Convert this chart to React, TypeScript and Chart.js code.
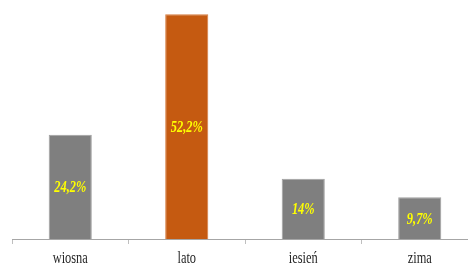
import React, { useEffect, useRef } from "react";
import { Chart, registerables } from "chart.js";

Chart.register(...registerables);

const categories = ["wiosna", "lato", "iesień", "zima"];
const values = [24.2, 52.2, 14, 9.7];
const valueLabels = ["24,2%", "52,2%", "14%", "9,7%"];
const barColors = ["#7f7f7f", "#c55a11", "#7f7f7f", "#7f7f7f"];
const barBorders = ["#a0a0a0", "#d47a3e", "#a0a0a0", "#a0a0a0"];

const SERIF = "'Liberation Serif', 'Times New Roman', serif";
const SQUEEZE = 0.73;

function drawSqueezed(ctx: CanvasRenderingContext2D, text: string, x: number, y: number) {
  ctx.save();
  ctx.translate(x, y);
  ctx.scale(SQUEEZE, 1);
  ctx.fillText(text, 0, 0);
  ctx.restore();
}

const labelPlugin = {
  id: "barLabels",
  afterDatasetsDraw(chart: any) {
    const ctx = chart.ctx as CanvasRenderingContext2D;
    const meta = chart.getDatasetMeta(0);
    ctx.save();
    ctx.fillStyle = "#ffff00";
    ctx.font = `italic bold 17px ${SERIF}`;
    ctx.textAlign = "center";
    ctx.textBaseline = "middle";
    meta.data.forEach((bar: any, i: number) => {
      const y = (bar.y + bar.base) / 2 + 1;
      drawSqueezed(ctx, valueLabels[i], bar.x, y);
    });
    ctx.fillStyle = "#262626";
    ctx.font = `17px ${SERIF}`;
    ctx.textBaseline = "alphabetic";
    const xs = chart.scales.x;
    categories.forEach((c, i) => {
      drawSqueezed(ctx, c, xs.getPixelForValue(i), xs.bottom + 19);
    });
    ctx.restore();
  },
};

export default function App() {
  const ref = useRef<HTMLCanvasElement>(null);
  useEffect(() => {
    if (!ref.current) return;
    const chart = new Chart(ref.current, {
      type: "bar",
      data: {
        labels: categories,
        datasets: [
          {
            data: values,
            backgroundColor: barColors,
            borderColor: barBorders,
            borderWidth: 1,
            categoryPercentage: 1,
            barPercentage: 0.37,
          },
        ],
      },
      options: {
        responsive: false,
        animation: false,
        layout: { padding: { left: 12, right: 0, top: 0, bottom: 19 } },
        plugins: { legend: { display: false }, tooltip: { enabled: false } },
        scales: {
          y: { display: false, min: 0, max: 55.5 },
          x: {
            offset: true,
            grid: {
              offset: true,
              drawOnChartArea: false,
              drawTicks: true,
              tickLength: 5,
              color: "#bfbfbf",
            },
            border: { display: true, color: "#a6a6a6", width: 1 },
            ticks: { display: false },
          },
        },
      },
      plugins: [labelPlugin],
    });
    return () => chart.destroy();
  }, []);
  return (
    <div
      style={{
        position: "absolute",
        left: 0,
        top: 0,
        width: 468,
        height: 263,
        overflow: "hidden",
        background: "#ffffff",
      }}
    >
      <canvas ref={ref} width={478} height={263} style={{ width: 478, height: 263, display: "block" }} />
    </div>
  );
}
